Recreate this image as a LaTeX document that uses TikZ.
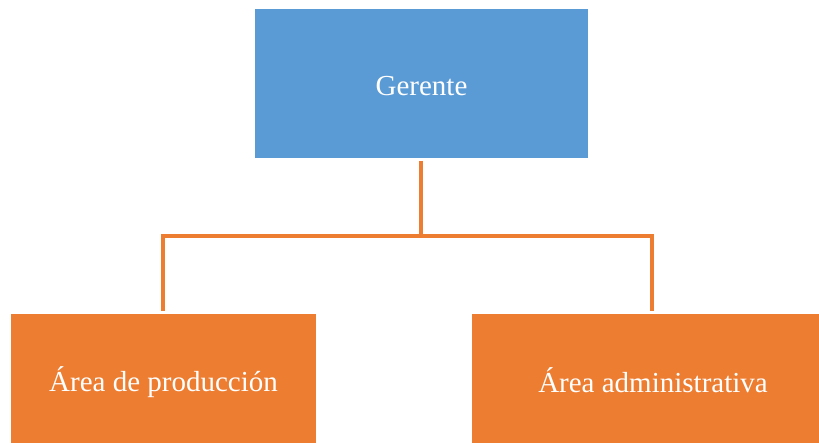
\documentclass[tikz,border=0pt]{standalone}
\usepackage{fontspec}
\setmainfont{Liberation Serif}
\definecolor{boxblue}{HTML}{5B9BD5}
\definecolor{boxorange}{HTML}{ED7D31}
\begin{document}
\begin{tikzpicture}[x=1pt,y=-1pt,
  box/.style={rectangle, inner sep=0pt, outer sep=0pt, text=white,
    font=\fontsize{29}{32}\selectfont},
  conn/.style={draw=boxorange, line width=3.1pt}]
\useasboundingbox (0,0) rectangle (819,443);
\node[box, fill=boxblue, minimum width=333pt, minimum height=149pt] (g) at (421.5,83.5) {};
\node[text=white, font=\fontsize{29}{32}\selectfont, inner sep=0pt] (gt) at (421.5,86) {Gerente};
\node[box, fill=boxorange, minimum width=305pt, minimum height=136pt] (l) at (163.5,382) {Área de producción};
\node[box, fill=boxorange, minimum width=362pt, minimum height=132pt] (r) at (653,380) {Área administrativa};
\coordinate (j) at (421,236);
\coordinate (jl) at (163,236);
\coordinate (jr) at (652,236);
\coordinate (el) at (163,311);
\coordinate (er) at (652,311);
\draw[conn] ([yshift=-3pt]g.south -| j) -- (j);
\draw[conn] (el) -- (jl) -- (jr) -- (er);
\end{tikzpicture}
\end{document}
